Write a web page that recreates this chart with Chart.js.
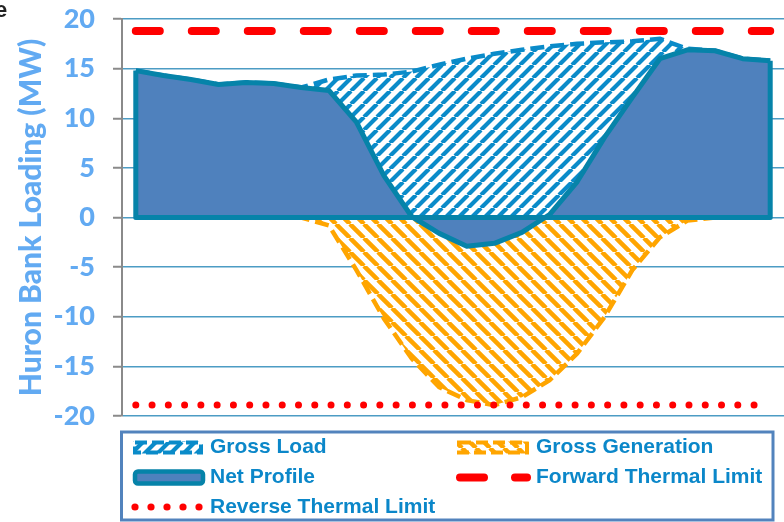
<!DOCTYPE html>
<html lang="en">
<head>
<meta charset="UTF-8">
<title>Huron Bank Loading</title>
<script src="https://cdn.jsdelivr.net/npm/chart.js@4.4.1/dist/chart.umd.min.js"></script>
<style>
  html, body { margin: 0; padding: 0; background: #fff; }
  #wrap { width: 784px; height: 522px; }
</style>
</head>
<body>
<div id="wrap"><canvas id="chart-huron" width="784" height="522"></canvas></div>
<script>
  // one point per hour of the day
  var hours = ['0', '1', '2', '3', '4', '5', '6', '7', '8', '9', '10', '11',
               '12', '13', '14', '15', '16', '17', '18', '19', '20', '21', '22', '23'];

  var grossLoad = [14.8, 14.3, 13.9, 13.4, 13.6, 13.5, 13.1, 13.9, 14.3, 14.4, 14.7, 15.4,
                   16.0, 16.5, 16.9, 17.25, 17.5, 17.65, 17.75, 18.0, 17.0, 16.8, 16.0, 15.8];
  var grossGeneration = [0, 0, 0, 0, 0, 0, 0, -0.8, -5.3, -10.2, -14.2, -17.1,
                         -18.4, -18.9, -18.1, -16.4, -13.7, -10.0, -5.3, -2.0, -0.3, 0, 0, 0];
  var netProfile = [14.8, 14.3, 13.9, 13.4, 13.6, 13.5, 13.1, 12.8, 9.6, 4.2, 0.1, -1.6,
                    -2.9, -2.6, -1.5, 0.3, 3.6, 8.1, 12.1, 16.0, 16.9, 16.8, 16.0, 15.8];
  var forwardLimit = [18.8, 18.8, 18.8, 18.8, 18.8, 18.8, 18.8, 18.8, 18.8, 18.8, 18.8, 18.8,
                      18.8, 18.8, 18.8, 18.8, 18.8, 18.8, 18.8, 18.8, 18.8, 18.8, 18.8, 18.8];
  var reverseLimit = [-18.9, -18.9, -18.9, -18.9, -18.9, -18.9, -18.9, -18.9, -18.9, -18.9, -18.9, -18.9,
                      -18.9, -18.9, -18.9, -18.9, -18.9, -18.9, -18.9, -18.9, -18.9, -18.9, -18.9, -18.9];
  var yTicks = [-20, -15, -10, -5, 0, 5, 10, 15, 20];

  var seriesNames = ['Gross Load', 'Gross Generation', 'Net Profile', 'Forward Thermal Limit', 'Reverse Thermal Limit'];

  var loadBlue = '#0a8bc9';
  var genOrange = '#ffa500';
  var netFill = '#4f81bd';
  var netEdge = '#0683a9';
  var limitRed = '#ff0000';
  var axisBlue = '#62aaf2';
  var legendText = '#0b87c9';

  // diagonal hatch, dir 1 = "/" and -1 = "\"
  function stripes(color, size, width, dir) {
    var c = document.createElement('canvas');
    c.width = size; c.height = size;
    var g = c.getContext('2d');
    g.fillStyle = '#fff';
    g.fillRect(0, 0, size, size);
    g.strokeStyle = color;
    g.lineWidth = width;
    g.beginPath();
    for (var k = -1; k <= 1; k++) {
      if (dir > 0) { g.moveTo(k * size, size); g.lineTo(k * size + size, 0); }
      else { g.moveTo(k * size, 0); g.lineTo(k * size + size, size); }
    }
    g.stroke();
    return g.createPattern(c, 'repeat');
  }

  var loadHatch = stripes(loadBlue, 13, 4.2, 1);
  var genHatch = stripes(genOrange, 14, 4.5, -1);

  // net profile is an area: close it along the zero line and the two ends
  var netOutline = {
    id: 'netOutline',
    afterDatasetDraw: function(chart, args) {
      if (args.index !== 2) return;
      var x = chart.scales.x, y = chart.scales.y, ctx = chart.ctx;
      var last = netProfile.length - 1;
      ctx.save();
      ctx.strokeStyle = netEdge;
      ctx.lineWidth = 5;
      ctx.lineJoin = 'round';
      ctx.beginPath();
      ctx.moveTo(x.getPixelForValue(0), y.getPixelForValue(netProfile[0]));
      ctx.lineTo(x.getPixelForValue(0), y.getPixelForValue(0));
      ctx.lineTo(x.getPixelForValue(last), y.getPixelForValue(0));
      ctx.lineTo(x.getPixelForValue(last), y.getPixelForValue(netProfile[last]));
      ctx.stroke();
      ctx.restore();
    }
  };

  // boxed legend, two columns
  var boxLegend = {
    id: 'boxLegend',
    afterDraw: function(chart) {
      var ctx = chart.ctx;
      ctx.save();
      ctx.strokeStyle = '#5283bd';
      ctx.lineWidth = 3;
      ctx.strokeRect(121.5, 432, 651.5, 88);

      var rows = [447.5, 477.5, 507];
      var colSym = [133, 457];
      var colText = [210, 536];

      // gross load
      ctx.fillStyle = loadHatch;
      ctx.fillRect(colSym[0], rows[0] - 6, 70, 12);
      ctx.strokeStyle = loadBlue; ctx.lineWidth = 4; ctx.setLineDash([12, 5]);
      ctx.strokeRect(colSym[0] + 2, rows[0] - 5, 66, 10);
      // gross generation
      ctx.fillStyle = genHatch;
      ctx.fillRect(colSym[1], rows[0] - 6, 72, 12);
      ctx.strokeStyle = genOrange;
      ctx.strokeRect(colSym[1] + 2, rows[0] - 5, 68, 10);
      ctx.setLineDash([]);
      // net profile
      ctx.fillStyle = netFill; ctx.strokeStyle = netEdge; ctx.lineWidth = 4.5;
      ctx.beginPath();
      ctx.roundRect(colSym[0] + 2, rows[1] - 6, 68, 12, 3);
      ctx.fill(); ctx.stroke();
      // forward limit
      ctx.strokeStyle = limitRed; ctx.lineWidth = 8; ctx.lineCap = 'round';
      ctx.beginPath();
      ctx.moveTo(colSym[1] + 3, rows[1]); ctx.lineTo(colSym[1] + 27, rows[1]);
      ctx.moveTo(colSym[1] + 58, rows[1]); ctx.lineTo(colSym[1] + 70, rows[1]);
      ctx.stroke();
      // reverse limit
      ctx.fillStyle = limitRed;
      for (var i = 0; i < 5; i++) {
        ctx.beginPath();
        ctx.arc(colSym[0] + 2 + i * 16, rows[2], 3.6, 0, Math.PI * 2);
        ctx.fill();
      }

      ctx.fillStyle = legendText;
      ctx.font = 'bold 21px "Liberation Sans", Arial, sans-serif';
      ctx.textBaseline = 'middle';
      ctx.fillText(seriesNames[0], colText[0], rows[0]);
      ctx.fillText(seriesNames[1], colText[1], rows[0]);
      ctx.fillText(seriesNames[2], colText[0], rows[1]);
      ctx.fillText(seriesNames[3], colText[1], rows[1]);
      ctx.fillText(seriesNames[4], colText[0], rows[2]);

      // clipped letter at the top left corner of the source image
      ctx.fillStyle = '#222';
      ctx.font = 'bold 22px "Liberation Sans", Arial, sans-serif';
      ctx.textBaseline = 'alphabetic';
      ctx.fillText('e', -5, 17);
      ctx.restore();
    }
  };

  var ctx = document.getElementById('chart-huron').getContext('2d');
  var chart = new Chart(ctx, {
    type: 'line',
    data: {
      labels: hours,
      datasets: [
        {
          label: seriesNames[0],
          data: grossLoad,
          borderColor: loadBlue,
          borderWidth: 4.5,
          borderDash: [14, 6],
          backgroundColor: loadHatch,
          fill: 'origin',
          pointRadius: 0,
          order: 3
        },
        {
          label: seriesNames[1],
          data: grossGeneration,
          borderColor: genOrange,
          borderWidth: 4.5,
          borderDash: [14, 6],
          backgroundColor: genHatch,
          fill: 'origin',
          pointRadius: 0,
          order: 4
        },
        {
          label: seriesNames[2],
          data: netProfile,
          borderColor: netEdge,
          borderWidth: 5,
          borderJoinStyle: 'round',
          backgroundColor: netFill,
          fill: 'origin',
          pointRadius: 0,
          order: 2
        },
        {
          label: seriesNames[3],
          data: forwardLimit,
          borderColor: limitRed,
          borderWidth: 8,
          borderDash: [24, 32],
          borderCapStyle: 'round',
          fill: false,
          pointRadius: 0,
          order: 1
        },
        {
          label: seriesNames[4],
          data: reverseLimit,
          borderColor: limitRed,
          borderWidth: 7,
          borderDash: [0.01, 16.26],
          borderCapStyle: 'round',
          fill: false,
          pointRadius: 0,
          order: 1
        }
      ]
    },
    options: {
      responsive: false,
      animation: false,
      layout: { padding: { top: 19, right: 0, bottom: 106, left: 0 } },
      plugins: {
        legend: { display: false },
        tooltip: { enabled: false }
      },
      scales: {
        x: {
          type: 'category',
          offset: true,
          display: false
        },
        y: {
          min: -20,
          max: 20,
          afterBuildTicks: function(scale) {
            scale.ticks = yTicks.map(function(v) { return { value: v }; });
          },
          afterFit: function(scale) {
            scale.width = 122;
            scale.paddingTop = 0;
            scale.paddingBottom = 0;
          },
          grid: {
            color: '#4d9cc4',
            lineWidth: 1.5,
            tickColor: '#8a8a8a',
            tickWidth: 2,
            tickLength: 9
          },
          border: { color: '#8a8a8a', width: 2 },
          ticks: {
            padding: 18,
            color: axisBlue,
            font: { family: 'Lato', weight: '900', size: 27 }
          },
          title: {
            display: true,
            text: 'Huron Bank Loading (MW)',
            color: axisBlue,
            padding: { top: 13, bottom: 0 },
            font: { family: 'Lato', weight: '900', size: 30 }
          }
        }
      }
    },
    plugins: [netOutline, boxLegend]
  });
</script>
</body>
</html>
